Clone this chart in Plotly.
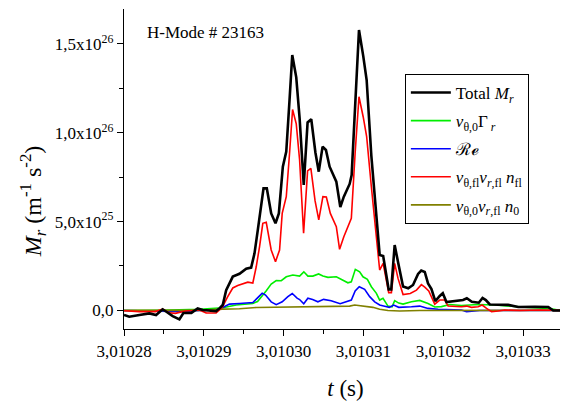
import plotly.graph_objects as go

T0 = 3.01028  # s, time origin of the offsets below (offsets in microseconds)

# Total M_r  (offset in us, value in 1e25 m^-1 s^-2)
total_t_us = [0, 0.66, 1.92, 3.17, 4.02, 4.84, 5.31, 6.10, 6.94, 7.44, 8.44, 9.23, 9.86, 11.54, 11.96,
              12.37, 12.80, 13.21, 13.63, 14.47, 15.31, 15.93, 16.35, 16.76, 17.06, 17.48, 17.89, 18.44,
              18.98, 19.40, 19.90, 20.33, 20.74, 21.08, 21.58, 22.0, 22.52, 23.0, 23.46, 23.98, 24.40,
              24.88, 25.30, 25.76, 26.60, 27.10, 27.54, 28.27, 28.52, 28.93, 29.44, 29.97, 30.40, 30.99,
              31.57, 32.03, 32.47, 33.16, 33.48, 33.91, 34.33, 34.96, 35.61, 36.21, 36.84, 37.24, 37.68,
              38.09, 38.52, 39.0, 39.56, 39.94, 40.40, 41.57, 42.48, 42.95, 43.58, 44.45, 44.92, 45.33,
              45.83, 48.13, 49.39, 51.48, 53.15, 53.78, 55.5]
total_val = [-0.26, -0.36, -0.26, -0.17, -0.26, 0.06, -0.08, -0.32, -0.51, -0.15, -0.14, 0.11, 0.02, -0.04,
             0.11, 0.30, 1.14, 1.48, 1.90, 2.06, 2.35, 2.41, 3.21, 4.52, 5.55, 6.87, 6.87, 5.46, 4.90, 5.46,
             8.09, 8.94, 11.85, 14.38, 13.12, 10.83, 7.06, 10.58, 10.76, 8.89, 7.81, 9.22, 9.03, 8.09, 7.25,
             5.82, 6.40, 7.12, 7.62, 11.66, 15.79, 14.33, 12.97, 8.69, 5.31, 3.12, 3.06, 1.18, 1.18, 3.68,
             2.72, 1.34, 1.24, 1.43, 2.05, 2.24, 2.16, 1.52, 1.20, 0.52, 0.81, 0.97, 0.47, 0.52, 0.58, 0.68,
             0.48, 0.43, 0.70, 0.58, 0.33, 0.31, 0.19, 0.20, 0.19, -0.01, -0.01]

# v_theta,0 Gamma_r
gamma_t_us = [0, 4.43, 9.45, 11.54, 12.37, 14.05, 16.14, 16.73, 17.23, 17.85, 18.44, 19.07, 19.70, 20.33,
              21.15, 22.0, 22.53, 23.04, 23.66, 24.38, 24.92, 25.55, 26.60, 27.43, 28.05, 28.48, 28.98,
              29.52, 29.94, 30.49, 30.99, 31.62, 32.03, 32.45, 33.07, 33.58, 33.91, 34.42, 34.96, 36.01,
              37.05, 38.09, 38.93, 39.77, 40.82, 42.28, 44.37, 46.46, 48.13, 50.64, 53.15, 54.40, 55.5]
gamma_val = [-0.01, 0, 0.06, 0.11, 0.15, 0.30, 0.39, 0.50, 0.75, 1.12, 1.48, 1.68, 1.67, 1.89, 1.99, 1.93,
             2.17, 1.93, 1.93, 2.05, 1.93, 1.86, 1.89, 1.71, 1.55, 1.61, 2.31, 2.17, 1.89, 1.75, 1.33, 0.96,
             0.58, 0.68, 0.24, 0.20, 0.55, 0.41, 0.35, 0.48, 0.56, 0.39, 0.19, 0.21, 0.33, 0.27, 0.33, 0.30,
             0.24, 0.17, 0.11, 0.02, -0.01]

# Reynolds stress term
re_t_us = [0, 5.06, 7.57, 9.45, 11.54, 12.37, 13.21, 14.47, 16.14, 16.76, 17.31, 17.73, 18.44, 19.07, 19.82,
           20.53, 21.08, 21.68, 22.0, 22.52, 23.04, 23.63, 24.29, 25.01, 25.95, 27.08, 28.02, 28.48, 28.96,
           29.47, 30.15, 30.78, 31.41, 32.03, 32.66, 33.24, 33.79, 34.42, 36.01, 37.05, 38.09, 39.35, 42.28,
           42.91, 44.58, 55.5]
re_val = [-0.01, -0.04, -0.07, 0, 0.02, 0.16, 0.35, 0.39, 0.44, 0.72, 0.97, 0.86, 0.48, 0.32, 0.48, 0.77,
          0.95, 0.69, 0.61, 0.37, 0.68, 0.61, 0.48, 0.62, 0.54, 0.37, 0.52, 0.58, 1.09, 1.33, 1.18, 0.77,
          0.48, 0.30, 0.23, 0.17, 0.30, 0.17, 0.20, 0.24, 0.11, 0.06, 0.02, -0.07, -0.01, -0.01]

# v_theta,fl v_r,fl n_fl
fl_t_us = [0, 1.92, 3.93, 4.84, 5.68, 6.44, 7.69, 9.45, 10.29, 11.54, 11.96, 12.37, 12.96, 13.63, 14.25,
           14.88, 15.51, 16.14, 16.56, 16.98, 17.39, 17.82, 18.44, 18.98, 19.49, 19.82, 20.33, 20.74, 21.12,
           21.58, 22.0, 22.50, 23.0, 23.41, 23.94, 24.40, 24.92, 25.35, 25.85, 26.60, 27.01, 27.54, 28.48,
           28.96, 29.44, 29.97, 30.40, 30.99, 31.59, 32.03, 32.47, 33.16, 33.50, 33.91, 34.33, 34.96, 35.86,
           36.64, 37.26, 37.68, 38.18, 38.93, 39.56, 40.19, 40.60, 42.28, 42.91, 43.54, 44.37, 44.87, 45.42,
           46.05, 46.88, 47.72, 49.60, 52.1, 55.5]
fl_val = [-0.02, -0.07, -0.07, 0.07, -0.14, -0.17, -0.04, 0.02, -0.14, -0.15, 0.02, 0.21, 0.75, 1.26, 1.40,
          1.51, 1.59, 1.54, 2.44, 3.58, 4.90, 4.96, 3.40, 2.74, 3.40, 5.46, 6.40, 8.85, 11.31, 10.50, 8.47,
          4.34, 7.85, 8.0, 6.16, 5.09, 6.40, 6.38, 5.46, 4.71, 3.44, 4.15, 5.18, 8.89, 12.03, 10.89, 9.78,
          6.96, 4.34, 2.27, 2.64, 1.00, 1.00, 2.65, 1.80, 0.89, 0.95, 1.14, 1.45, 1.31, 1.09, 0.35, 0.58,
          0.58, 0.24, 0.20, 0.24, 0.17, 0.20, 0.30, 0.11, -0.08, -0.04, 0.02, -0.01, 0.02, -0.01]

# v_theta,0 v_r,fl n_0
n0_t_us = [0, 9.45, 12.37, 14.47, 16.56, 18.64, 22.83, 27.01, 28.27, 28.90, 29.52, 31.19, 32.03, 33.07,
           34.54, 37.05, 55.5]
n0_val = [0, 0, 0.07, 0.09, 0.16, 0.17, 0.20, 0.23, 0.24, 0.30, 0.27, 0.17, 0.06, -0.01, -0.04, -0.01, 0]

x_tick_vals = [3.01028, 3.01029, 3.01030, 3.01031, 3.01032, 3.01033]
x_tick_text = ["3,01028", "3,01029", "3,01030", "3,01031", "3,01032", "3,01033"]
y_tick_vals = [0, 5e25, 1e26, 1.5e26]
y_tick_text = ["0,0", "5,0x10<sup>25</sup>", "1,0x10<sup>26</sup>", "1,5x10<sup>26</sup>"]


def to_t(us):
    return [T0 + u * 1e-6 for u in us]


def to_y(v):
    return [a * 1e25 for a in v]


series = [
    ("Total <i>M</i><sub><i>r</i></sub>", total_t_us, total_val, "#000000", 2.6),
    ("<i>v</i><sub>θ,0</sub>Γ<sub> <i>r</i></sub>", gamma_t_us, gamma_val, "#00ee00", 1.6),
    ("<span style='font-family:DejaVu Serif'>ℛℯ</span>", re_t_us, re_val, "#0000ff", 1.6),
    ("<i>v</i><sub>θ,fl</sub><i>v</i><sub><i>r</i>,fl</sub> <i>n</i><sub>fl</sub>", fl_t_us, fl_val, "#ff0000", 1.6),
    ("<i>v</i><sub>θ,0</sub><i>v</i><sub><i>r</i>,fl</sub> <i>n</i><sub>0</sub>", n0_t_us, n0_val, "#808000", 1.6),
]

fig = go.Figure()
order = [1, 2, 4, 3, 0]
traces = {}
for i, (name, tu, v, c, w) in enumerate(series):
    traces[i] = go.Scatter(x=to_t(tu), y=to_y(v), mode="lines", name=name,
                           line=dict(color=c, width=w), legendrank=i + 1,
                           legendgroup=str(i))
for i in order:
    fig.add_trace(traces[i])

# page body has an 8px margin: figure is 560x393 placed at (8, 8)
fig.update_layout(
    width=560, height=393,
    margin=dict(l=116, r=1, t=1, b=72),
    plot_bgcolor="white", paper_bgcolor="white",
    font=dict(family="Liberation Serif", size=17, color="black"),
    showlegend=True,
    legend=dict(x=0.634, y=0.797, xanchor="left", yanchor="top",
                bordercolor="black", borderwidth=1, bgcolor="white",
                font=dict(size=17), tracegroupgap=3, traceorder="grouped",
                itemwidth=40),
    xaxis=dict(range=[3.01028, 3.0103355], tickvals=x_tick_vals, ticktext=x_tick_text,
               automargin=False, tickfont=dict(size=17),
               showgrid=False, zeroline=False, showline=True, linecolor="black", linewidth=1.3,
               ticks="outside", ticklen=6, tickwidth=1.3, tickcolor="black",
               minor=dict(tickmode="linear", tick0=3.010285, dtick=1e-5, ticks="outside",
                          ticklen=4, tickwidth=1.2, tickcolor="black"),
               title=dict(text="<i>t</i> (s)", font=dict(size=23), standoff=20)),
    yaxis=dict(range=[-1.05e25, 1.697e26], tickvals=y_tick_vals, ticktext=y_tick_text,
               automargin=False, tickfont=dict(size=17),
               showgrid=False, zeroline=False, showline=True, linecolor="black", linewidth=1.3,
               ticks="outside", ticklen=6, tickwidth=1.3, tickcolor="black",
               minor=dict(tickmode="linear", tick0=2.5e25, dtick=5e25, ticks="outside",
                          ticklen=4, tickwidth=1.2, tickcolor="black")),
    annotations=[
        dict(text="H-Mode # 23163", xref="paper", yref="paper", x=0.048, y=0.925,
             xanchor="left", yanchor="middle", showarrow=False, font=dict(size=17)),
        dict(text="<i>M</i><sub><i>r</i></sub> (m<sup>-1</sup> s<sup>-2</sup>)", xref="paper", yref="paper",
             x=-0.205, y=0.40, xanchor="center", yanchor="middle", textangle=-90,
             showarrow=False, font=dict(size=24)),
    ],
)

fig.write_html("out.html")
